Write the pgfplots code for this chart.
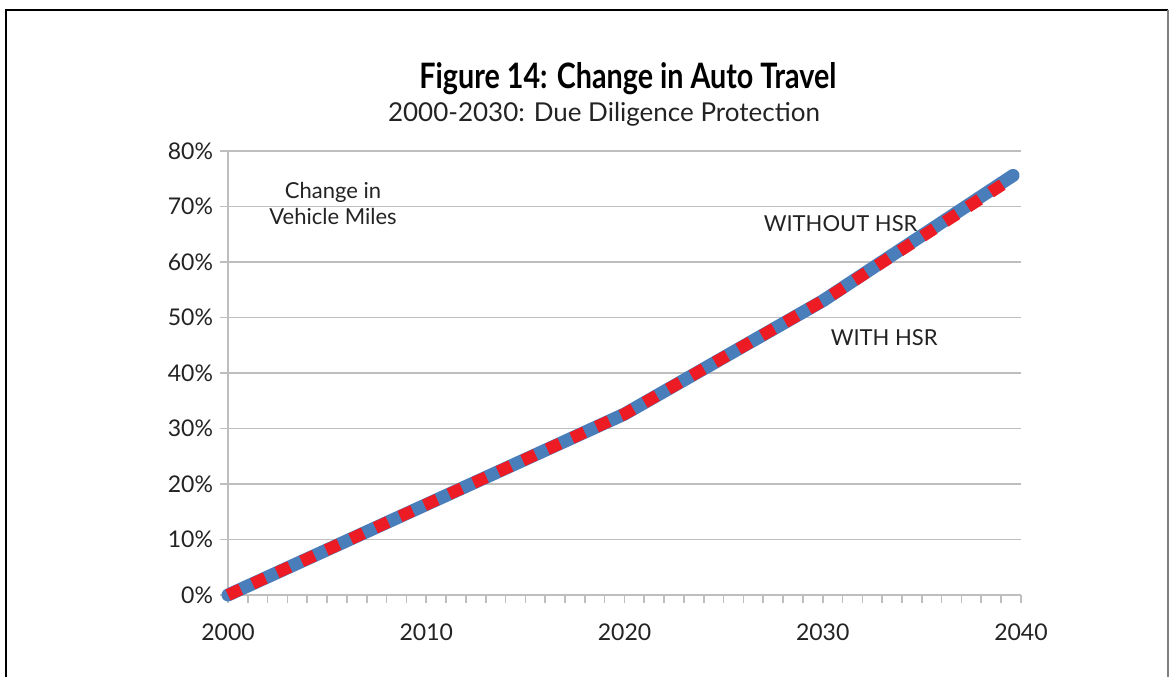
\documentclass[border=0pt]{standalone}
\usepackage{pgfplots}
\pgfplotsset{compat=1.18}
\usepackage{fontspec}
\setmainfont{Lato}
\definecolor{lblue}{RGB}{74,126,187}
\definecolor{lred}{RGB}{237,28,36}
\definecolor{gridgray}{RGB}{190,190,190}
\definecolor{txt}{RGB}{35,35,35}
\begin{document}
\begin{tikzpicture}
\useasboundingbox (0pt,0pt) rectangle (584.5pt,338.5pt);
\draw[black,line width=1pt] (3pt,0pt) -- (3pt,333.5pt) -- (584pt,333.5pt);
\draw[gray,line width=0.6pt] (584pt,333.5pt) -- (584pt,0pt);
\node[anchor=base,font=\bfseries\fontsize{17.5}{20}\selectfont,text=black,xscale=0.82] at (314pt,294.5pt) {Figure 14: Change in Auto Travel};
\node[anchor=base,font=\fontsize{13}{15}\selectfont,text=txt] at (302pt,278pt) {2000-2030: Due Diligence Protection};
\begin{axis}[
  at={(114pt,41pt)}, anchor=south west,
  scale only axis, width=396.5pt, height=222pt,
  xmin=2000, xmax=2040, ymin=0, ymax=80,
  clip=false,
  axis x line*=bottom, axis y line*=left,
  axis line style={gridgray, line width=0.8pt},
  ymajorgrids, grid style={gridgray, line width=0.8pt},
  ytick={0,10,...,80},
  yticklabel={\pgfmathprintnumber{\tick}\%},
  xtick={2000,2010,2020,2030,2040},
  minor xtick={2001,...,2039},
  tick align=outside,
  major tick length=4pt, minor tick length=4pt,
  tick style={gridgray, line width=0.8pt},
  x tick label style={/pgf/number format/1000 sep={}, yshift=-7pt},
  /pgf/number format/assume math mode=true,
  tick label style={font=\fontsize{11.5}{13}\selectfont, text=txt},
]
\addplot[lblue, line width=6.5pt, line cap=round, line join=round] coordinates {
(2000,0) (2010,16.3) (2020,32.6) (2030,53.0) (2039.6,75.6)};
\addplot[lred, line width=6pt, line join=round, dash pattern=on 7pt off 6.5pt] coordinates {
(2000,0) (2010,16.3) (2020,32.6) (2030,53.0) (2039.6,75.2)};
\node[align=center, font=\fontsize{11}{13}\selectfont, text=txt] at (axis cs:2005.3,70.6) {Change in\\Vehicle Miles};
\node[font=\fontsize{11}{13}\selectfont, text=txt] at (axis cs:2030.9,67.0) {WITHOUT HSR};
\node[font=\fontsize{11}{13}\selectfont, text=txt] at (axis cs:2033.1,46.3) {WITH HSR};
\end{axis}
\end{tikzpicture}
\end{document}
